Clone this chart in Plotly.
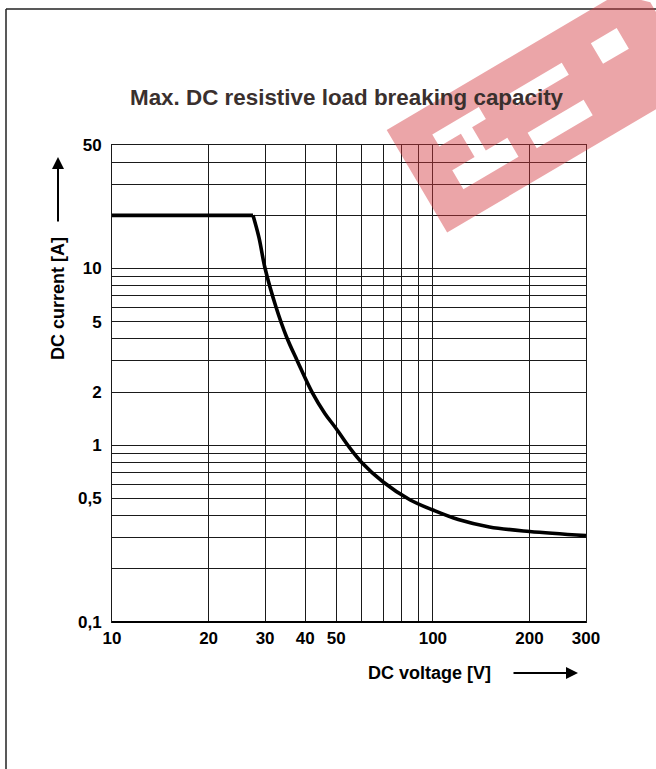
import math
import plotly.graph_objects as go

# ---------------- data ----------------
flat_voltage = [10, 27.5]
flat_current = [20, 20]
voltage = [27.5, 28.7, 30, 32.4, 35, 37.8, 42, 46, 50, 55, 60,
           70, 85, 100, 120, 150, 200, 300]
current = [20, 15, 10, 6.1, 4.1, 3.0, 2.0, 1.52, 1.24, 0.97, 0.8,
           0.62, 0.49, 0.43, 0.38, 0.345, 0.325, 0.308]

x_grid = [10, 20, 30, 40, 50, 60, 70, 80, 90, 100, 200, 300]
x_labels = ["10", "20", "30", "40", "50", "", "", "", "", "100", "200", "300"]
y_grid = [0.1, 0.2, 0.3, 0.4, 0.5, 0.6, 0.7, 0.8, 0.9, 1, 2, 3, 4, 5, 6, 7, 8, 9,
          10, 20, 30, 40, 50]
y_labels = ["0,1", "", "", "", "0,5", "", "", "", "", "1", "2", "", "", "5", "", "",
            "", "", "10", "", "", "", "50"]

title_text = "Max. DC resistive load breaking capacity"
x_title = "DC voltage [V]"
y_title = "DC current [A]"

# ---------------- layout geometry ----------------
W, H = 656, 769
L, R, T, B = 112, 586, 145, 622
FONT = "Liberation Sans, Arial, sans-serif"


def px(xp):
    return (xp - L) / (R - L)


def py(yp):
    return (B - yp) / (B - T)


fig = go.Figure()
fig.add_trace(go.Scatter(x=flat_voltage, y=flat_current, mode="lines",
                         line=dict(color="black", width=3.6),
                         hoverinfo="skip", showlegend=False))
fig.add_trace(go.Scatter(x=voltage, y=current, mode="lines",
                         line=dict(color="black", width=3.6, shape="spline",
                                   smoothing=1.0),
                         hoverinfo="skip", showlegend=False))

axis_common = dict(
    type="log", showgrid=True, gridcolor="#1a1a1a", gridwidth=1,
    showline=True, linecolor="#1a1a1a", linewidth=1, mirror=True,
    ticks="", zeroline=False, fixedrange=True,
    tickfont=dict(family=FONT, size=17, color="black", weight="bold"),
)

fig.update_xaxes(range=[1, math.log10(300)], tickmode="array",
                 tickvals=x_grid, ticktext=x_labels, ticklabelstandoff=1,
                 **axis_common)
fig.update_yaxes(range=[-1, math.log10(50)], tickmode="array",
                 tickvals=y_grid, ticktext=y_labels, ticklabelstandoff=6,
                 **axis_common)

shapes = []
# thicker bottom axis line
shapes.append(dict(type="line", xref="paper", yref="paper", x0=0, x1=1, y0=0, y1=0,
                   line=dict(color="black", width=2)))
# outer frame (left and top)
shapes.append(dict(type="line", xref="paper", yref="paper",
                   x0=px(6), x1=px(6), y0=py(9), y1=py(H + 5),
                   line=dict(color="#222", width=1.5)))
shapes.append(dict(type="line", xref="paper", yref="paper",
                   x0=px(6), x1=px(W + 5), y0=py(9), y1=py(9),
                   line=dict(color="#222", width=1.5)))

# watermark (rotated band with cut-outs)
A = (386.7, 130.0)
U = (0.861, -0.508)
V = (0.508, 0.861)


def band(u, v):
    X = A[0] + u * U[0] + v * V[0]
    Y = A[1] + u * U[1] + v * V[1]
    return px(X), py(Y)


def poly(pts):
    s = ""
    for i, (u, v) in enumerate(pts):
        X, Y = band(u, v)
        s += ("M" if i == 0 else "L") + f"{X:.5f},{Y:.5f} "
    return s + "Z "


outer = [(0, 0), (268, 0), (292, 24), (292, 105), (280, 119), (0, 119)]
holes = [
    [(37, 27), (91, 27), (91, 41), (75, 41), (75, 68), (100, 68), (100, 90),
     (36, 90), (36, 68), (62, 68), (62, 41), (37, 41)],
    [(124, 31), (185, 31), (185, 45), (124, 45)],
    [(120, 74), (185, 74), (185, 92), (120, 92)],
    [(220, 29), (250, 29), (250, 53), (220, 53)],
]
path = poly(outer) + "".join(poly(h) for h in holes)
shapes.append(dict(type="path", xref="paper", yref="paper", path=path,
                   fillcolor="rgb(211,55,62)", opacity=0.45, fillrule="evenodd",
                   line=dict(width=0), layer="above"))

annotations = [
    dict(text=title_text, x=px(347), y=py(97), xref="paper", yref="paper",
         xanchor="center", yanchor="middle", showarrow=False,
         font=dict(family=FONT, size=22.4, color="#3a302e", weight="bold")),
    dict(text=x_title, x=px(429), y=py(673), xref="paper", yref="paper",
         xanchor="center", yanchor="middle", showarrow=False,
         font=dict(family=FONT, size=18, color="black", weight="bold")),
    dict(text=y_title, x=px(58), y=py(299), xref="paper", yref="paper",
         xanchor="center", yanchor="middle", showarrow=False, textangle=-90,
         font=dict(family=FONT, size=18, color="black", weight="bold")),
    # arrows
    dict(text="", x=px(578), y=py(673), xref="paper", yref="paper",
         ax=-66, ay=0, showarrow=True, arrowhead=2, arrowsize=1.2,
         arrowwidth=2, arrowcolor="black"),
    dict(text="", x=px(58), y=py(157), xref="paper", yref="paper",
         ax=0, ay=66, showarrow=True, arrowhead=2, arrowsize=1.2,
         arrowwidth=2, arrowcolor="black"),
]

fig.update_layout(
    width=W, height=H,
    margin=dict(l=L, r=W - R, t=T, b=H - B, pad=0),
    paper_bgcolor="white", plot_bgcolor="white",
    shapes=shapes, annotations=annotations, showlegend=False,
)

fig.write_html(
    "out.html",
    config={"displayModeBar": False},
    post_script="document.body.style.margin='0px';"
                "document.body.style.overflow='hidden';",
)
